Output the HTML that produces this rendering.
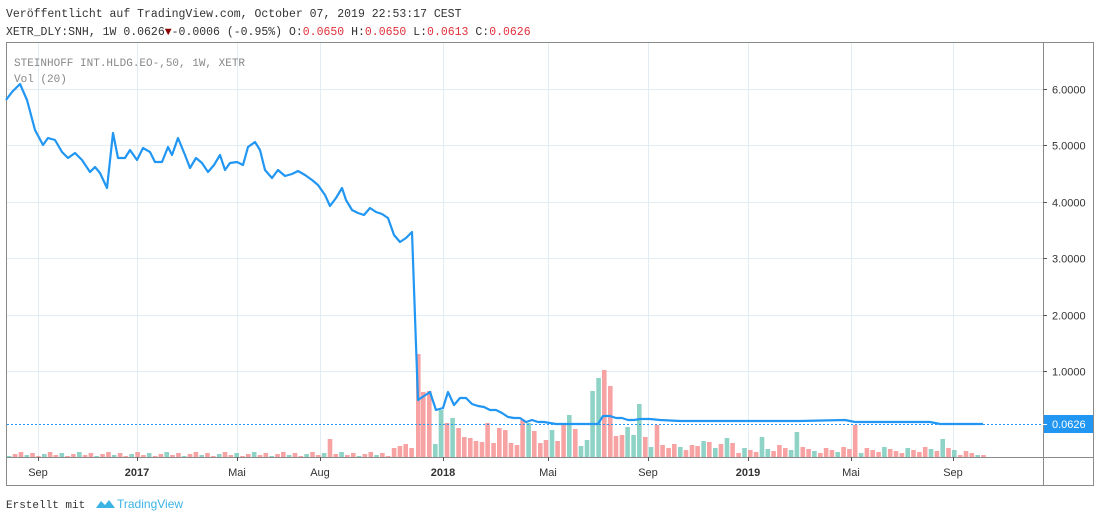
<!DOCTYPE html>
<html><head><meta charset="utf-8"><style>
body{margin:0;width:1100px;height:521px;background:#fff;overflow:hidden;font-family:"Liberation Sans",sans-serif}
svg{position:absolute;left:0;top:0}
</style></head><body>
<svg width="1100" height="521" xmlns="http://www.w3.org/2000/svg">
<text x="6" y="17" font-family="Liberation Mono,monospace" font-size="11.5" fill="#333">Veröffentlicht auf TradingView.com, October 07, 2019 22:53:17 CEST</text>
<text x="6" y="35" font-family="Liberation Mono,monospace" font-size="11.5" fill="#333">XETR_DLY:SNH, 1W 0.0626<tspan fill="#8b0000">▼</tspan>-0.0006 (-0.95%) O:<tspan fill="#e0303a">0.0650</tspan> H:<tspan fill="#e0303a">0.0650</tspan> L:<tspan fill="#e0303a">0.0613</tspan> C:<tspan fill="#e0303a">0.0626</tspan></text>
<g id="grid" stroke="#e1ecf3" stroke-width="1"></g>
<rect x="6.5" y="42.5" width="1087" height="443" fill="none" stroke="#8a8a8a"/>
<line x1="1043.5" y1="42" x2="1043.5" y2="486" stroke="#8a8a8a"/>
<line x1="6" y1="457.5" x2="1094" y2="457.5" stroke="#8a8a8a"/>
<g id="vol"></g>
<line x1="7" y1="424.5" x2="1043" y2="424.5" stroke="#2196f3" stroke-width="1" stroke-dasharray="2,2"/>
<polyline id="price" fill="none" stroke="#2196f3" stroke-width="2.2" stroke-linejoin="round"/>
<text x="14" y="66" font-family="Liberation Mono,monospace" font-size="11" fill="#888">STEINHOFF INT.HLDG.EO-,50, 1W, XETR</text>
<text x="14" y="82" font-family="Liberation Mono,monospace" font-size="11" fill="#888">Vol (20)</text>
<g id="yax" font-size="11" fill="#333"></g>
<rect x="1044" y="415" width="49" height="18" fill="#2196f3"/>
<line x1="1043" y1="424.5" x2="1047" y2="424.5" stroke="#fff"/>
<text x="1052" y="428" font-size="11" fill="#fff">0.0626</text>
<g id="xax" font-size="11" fill="#333"></g>
<text x="6" y="508" font-family="Liberation Mono,monospace" font-size="11" fill="#333">Erstellt mit</text>
<path d="M96 508 l5 -7 l4 4 l4 -5 l6 8 z" fill="#3bb3e4"/>
<text x="117" y="508" font-size="12" fill="#3bb3e4">TradingView</text>
</svg>
<script>
var ns="http://www.w3.org/2000/svg";
function el(p,t,a,txt){var e=document.createElementNS(ns,t);for(var k in a)e.setAttribute(k,a[k]);if(txt)e.textContent=txt;document.getElementById(p).appendChild(e);}
var xs=[[38,"Sep",0],[137,"2017",1],[237,"Mai",0],[320,"Aug",0],[443,"2018",1],[548,"Mai",0],[648,"Sep",0],[748,"2019",1],[851,"Mai",0],[953,"Sep",0]];
xs.forEach(function(a){el("grid","line",{x1:a[0]+.5,y1:43,x2:a[0]+.5,y2:457});
el("xax","line",{x1:a[0]+.5,y1:457,x2:a[0]+.5,y2:461,stroke:"#555"});
el("xax","text",{x:a[0],y:476,"text-anchor":"middle","font-weight":a[2]?"bold":"normal"},a[1]);});
[6,5,4,3,2,1].forEach(function(v){var y=Math.round(371-(v-1)*56.4)+.5;el("grid","line",{x1:7,y1:y,x2:1043,y2:y});
el("yax","line",{x1:1043,y1:y,x2:1047,y2:y,stroke:"#555"});el("yax","text",{x:1052,y:y+4},v.toFixed(4));});
var pts=[[6,100],[12,92],[20,84],[27,100],[35,130],[43,145],[48,138],[55,140],[62,152],[68,158],[75,153],[82,160],[90,172],[95,167],[100,173],[107,188],[113,133],[118,158],[125,158],[130,150],[137,160],[143,148],[150,152],[155,162],[162,162],[168,147],[172,155],[178,138],[185,155],[190,168],[196,158],[202,163],[208,172],[214,165],[220,155],[225,170],[230,163],[237,162],[243,165],[248,147],[255,142],[260,150],[265,170],[272,178],[278,170],[285,176],[292,174],[298,171],[305,175],[312,180],[318,185],[325,195],[330,206],[336,198],[342,188],[346,200],[352,210],[358,213],[364,215],[370,208],[376,212],[382,214],[388,218],[394,235],[400,242],[406,238],[412,232],[416,345],[418,400],[424,396],[430,392],[436,410],[443,408],[448,392],[454,405],[460,398],[466,398],[472,404],[478,406],[484,407],[490,410],[496,410],[502,413],[508,417],[514,418],[520,418],[526,422],[532,420],[538,422],[544,422],[550,423],[556,424],[590,424],[598,424],[603,416],[610,416],[616,418],[622,418],[628,420],[634,420],[640,419],[650,419],[660,420],[680,421],[740,421],[800,421],[845,420],[855,422],[930,422],[940,424],[983,424]];
document.getElementById("price").setAttribute("points",pts.map(function(p){return p.join(",")}).join(" "));
var bars=[];
var x=7,i=0;
while(x<414){var h=1+((i*7)%5);var c=(i%3==0)?"g":"r";if(Math.abs(x-330)<3){h=18;c="r"}if(x>388&&x<414){h=9+(i%3)*2;c="r"}bars.push([x,h,c]);x+=5.83;i++;}
var z=[[418,103,"r"],[132,65,"r"],[150,66,"r"],[168,13,"g"],[185,47,"g"],[203,34,"r"],[220,39,"g"],[238,29,"r"],[255,20,"r"],[273,19,"r"],[290,16,"r"],[308,15,"r"],[325,34,"r"],[343,14,"r"],[360,29,"r"],[378,27,"r"],[395,14,"r"],[413,12,"r"],[430,37,"r"],[448,34,"g"],[465,26,"r"],[483,14,"r"],[500,17,"r"],[518,27,"g"],[535,16,"r"],[553,33,"r"],[570,42,"g"],[588,28,"r"],[605,11,"g"],[623,17,"g"],[640,66,"g"],[658,79,"g"],[675,87,"r"],[693,71,"r"],[710,21,"r"],[728,22,"r"],[745,30,"g"],[763,22,"g"],[780,53,"g"],[798,20,"r"],[815,10,"g"],[833,32,"r"],[850,12,"r"],[868,9,"r"],[885,13,"r"],[903,10,"g"],[920,7,"r"],[938,12,"r"],[955,11,"r"],[973,16,"g"],[990,15,"r"],[1008,9,"g"],[1025,13,"r"],[1043,19,"g"],[1060,14,"r"]];
z.forEach(function(b,k){var bx=k==0?416:380+b[0]/3-3;bars.push([bx,b[1],b[2]]);});
x=380+1078/3-3;i=0;
var spec={758:[20,"g"],793:[25,"g"],851:[32,"r"],940:[18,"g"],711:[14,"g"],776:[12,"r"]};
while(x<983){var h=4+((i*5)%7),c=(i%4==1)?"g":"r";for(var s in spec){if(Math.abs(x-s)<3){h=spec[s][0];c=spec[s][1];}}if(x>955)h=Math.max(2,h-4);bars.push([x,h,c]);x+=5.83;i++;}
bars.forEach(function(b){el("vol","rect",{x:b[0].toFixed(1),y:457-b[1],width:4.6,height:b[1],fill:b[2]=="g"?"#8fd3c6":"#f7a3a3"});});
</script>
</body></html>
